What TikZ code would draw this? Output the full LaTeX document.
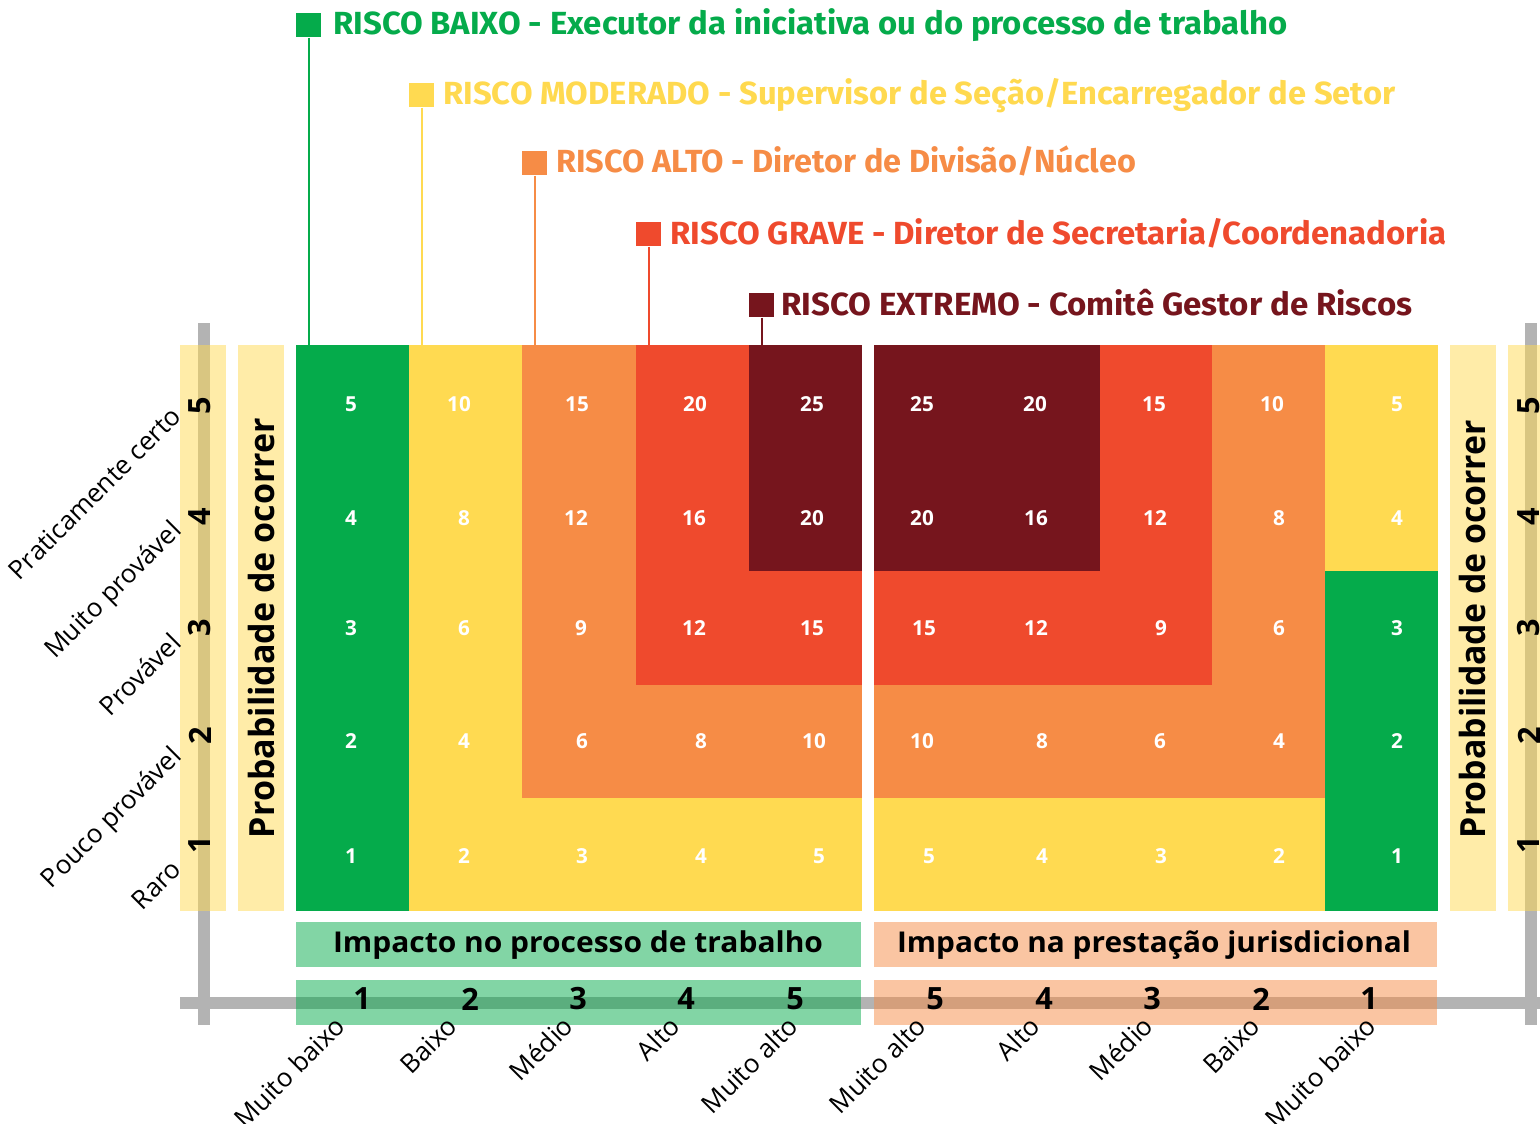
\documentclass[tikz,border=0pt]{standalone}
\usepackage{fontspec}
\usepackage{graphicx}
\setmainfont{Open Sans}
\newfontfamily\titlefont{Fira Sans}
\definecolor{cG}{HTML}{05AB4B}
\definecolor{cY}{HTML}{FFDA51}
\definecolor{cYt}{HTML}{FFD94F}
\definecolor{cO}{HTML}{F68C46}
\definecolor{cR}{HTML}{EF4A2D}
\definecolor{cD}{HTML}{76151D}
\definecolor{cGray}{HTML}{B3B3B3}
\newsavebox\fitbox
\newlength\fitl
\newcommand\fitto[2]{\sbox\fitbox{#2}\setlength\fitl{\wd\fitbox}\pgfmathsetmacro\fitr{#1*0.75/\fitl}\scalebox{\fitr}[1]{\usebox\fitbox}}
\tikzset{
  val/.style={text=white, font=\bfseries\fontsize{15.5}{15.5}\selectfont, inner sep=0},
  axnum/.style={font=\bfseries\fontsize{23}{23}\selectfont, inner sep=0},
  diag/.style={rotate=45, anchor=base east, inner sep=0, font=\fontsize{19.5}{19.5}\selectfont},
  titletxt/.style={anchor=base west, inner sep=0, font=\titlefont\bfseries\fontsize{24}{24}\selectfont},
  sq/.style={anchor=north west, inner sep=0, minimum width=18.75pt, minimum height=18pt},
  lead/.style={line width=1.5pt},
  stripbox/.style={fill=cY, fill opacity=0.5},
  axisline/.style={draw=cGray, line width=9pt},
  biglabel/.style={inner sep=0, font=\bfseries\fontsize{21.5}{21.5}\selectfont},
  problabel/.style={inner sep=0, rotate=90, anchor=base, font=\bfseries\fontsize{26}{26}\selectfont},
}
\begin{document}
\begin{tikzpicture}[x=0.75pt,y=-0.75pt]
\useasboundingbox (0,0) rectangle (1540,1123);
\clip (0,0) rectangle (1540,1123);
% axes
\coordinate (axL1) at (203.5,323);
\coordinate (axL2) at (203.5,1025);
\coordinate (axR1) at (1531,323);
\coordinate (axR2) at (1531,1025);
\coordinate (axH1) at (180,1003);
\coordinate (axH2) at (1545,1003);
\draw[axisline] (axL1) -- (axL2);
\draw[axisline] (axR1) -- (axR2);
\draw[axisline] (axH1) -- (axH2);
% strips and bars
\fill[stripbox] (180,345) rectangle (226,911);
\fill[stripbox] (238,345) rectangle (284,911);
\fill[stripbox] (1450,345) rectangle (1496,911);
\fill[stripbox] (1508,345) rectangle (1554,911);
\fill[cG, fill opacity=0.5] (296,922) rectangle (861,967);
\fill[cG, fill opacity=0.5] (296,980) rectangle (861,1025);
\fill[cO, fill opacity=0.5] (874,922) rectangle (1437,967);
\fill[cO, fill opacity=0.5] (874,980) rectangle (1437,1025);
% left block
\fill[cY] (296,345) rectangle (862,911);
\fill[cG] (296,345) rectangle (409.2,911);
\fill[cO] (522.4,345) rectangle (862,797.8);
\fill[cR] (635.6,345) rectangle (862,684.6);
\fill[cD] (748.8,345) rectangle (862,571.4);
% right block
\fill[cY] (874,345) rectangle (1438,911);
\fill[cO] (874,345) rectangle (1325.2,797.8);
\fill[cR] (874,345) rectangle (1212.4,684.6);
\fill[cD] (874,345) rectangle (1099.6,571.4);
\fill[cG] (1325.2,571.4) rectangle (1438,911);
\coordinate (gtop) at (296,345);
% cell values
\foreach \yy/\r/\xs in {404/5/{351,459,577,695,812},518/4/{351,464,576,694,812},628/3/{351,464,581,694,812},741/2/{351,464,582,701,814},856/1/{351,464,582,701,819}}{
  \foreach \xx [count=\c] in \xs {
    \pgfmathtruncatemacro\v{\r*\c}
    \node[val] (L\r-\c) at (\xx,\yy) {\v};
  }
}
\foreach \yy/\r/\xs in {404/5/{922,1035,1154,1272,1397},518/4/{922,1036,1155,1279,1397},628/3/{924,1036,1161,1279,1397},741/2/{922,1042,1160,1279,1397},856/1/{929,1042,1161,1279,1397}}{
  \foreach \xx [count=\c] in \xs {
    \pgfmathtruncatemacro\v{\r*(6-\c)}
    \node[val] (R\r-\c) at (\xx,\yy) {\v};
  }
}
% axis numbers
\foreach \yy/\n in {406/5,517/4,628/3,736/2,845/1}{
  \node[axnum, rotate=90] (pl\n) at (200,\yy) {\n};
  \node[axnum, rotate=90] (pr\n) at (1529,\yy) {\n};
}
\foreach \xx/\n in {362/1,470/2,578/3,686/4,795/5}{
  \node[axnum] (il\n) at (\xx,999) {\n};
}
\foreach \xx/\n in {935/5,1044/4,1152/3,1261/2,1369/1}{
  \node[axnum] (ir\n) at (\xx,999) {\n};
}
% probability labels
\node[problabel] (probL) at (274,628) {\fitto{420}{Probabilidade de ocorrer}};
\node[problabel] (probR) at (1485,629) {\fitto{418}{Probabilidade de ocorrer}};
\foreach \yy/\t [count=\i] in {418/Praticamente certo,532/Muito provável,645/Provável,758/Pouco provável,871/Raro}{
  \node[diag] (rl\i) at (183,\yy) {\t};
}
\foreach \xx/\t [count=\i] in {347/Muito baixo,459/Baixo,575/Médio,682/Alto,800/Muito alto,928/Muito alto,1042/Alto,1155/Médio,1262/Baixo,1378/Muito baixo}{
  \node[diag] (bl\i) at (\xx,1028) {\t};
}
% impact labels
\node[biglabel, anchor=base] (impL) at (578,952) {\fitto{490}{Impacto no processo de trabalho}};
\node[biglabel, anchor=base] (impR) at (1154,952) {\fitto{514}{Impacto na prestação jurisdicional}};
% titles
\node[sq, fill=cG] (sq1) at (296,13) {};
\node[sq, fill=cY] (sq2) at (409,83) {};
\node[sq, fill=cO] (sq3) at (522,151) {};
\node[sq, fill=cR] (sq4) at (636,222) {};
\node[sq, fill=cD] (sq5) at (749,293) {};
\draw[lead, cG] (sq1.south) -- (sq1.south |- gtop);
\draw[lead, cY] (sq2.south) -- (sq2.south |- gtop);
\draw[lead, cO] (sq3.south) -- (sq3.south |- gtop);
\draw[lead, cR] (sq4.south) -- (sq4.south |- gtop);
\draw[lead, cD] (sq5.south) -- (sq5.south |- gtop);
\node[titletxt, text=cG] (t1) at (333,35) {\fitto{954}{RISCO BAIXO - Executor da iniciativa ou do processo de trabalho}};
\node[titletxt, text=cYt] (t2) at (443,105) {\fitto{952}{RISCO MODERADO - Supervisor de Seção/Encarregador de Setor}};
\node[titletxt, text=cO] (t3) at (556,173) {\fitto{580}{RISCO ALTO - Diretor de Divisão/Núcleo}};
\node[titletxt, text=cR] (t4) at (670,244) {\fitto{776}{RISCO GRAVE - Diretor de Secretaria/Coordenadoria}};
\node[titletxt, text=cD] (t5) at (781,315) {\fitto{631}{RISCO EXTREMO - Comitê Gestor de Riscos}};
\end{tikzpicture}
\end{document}
